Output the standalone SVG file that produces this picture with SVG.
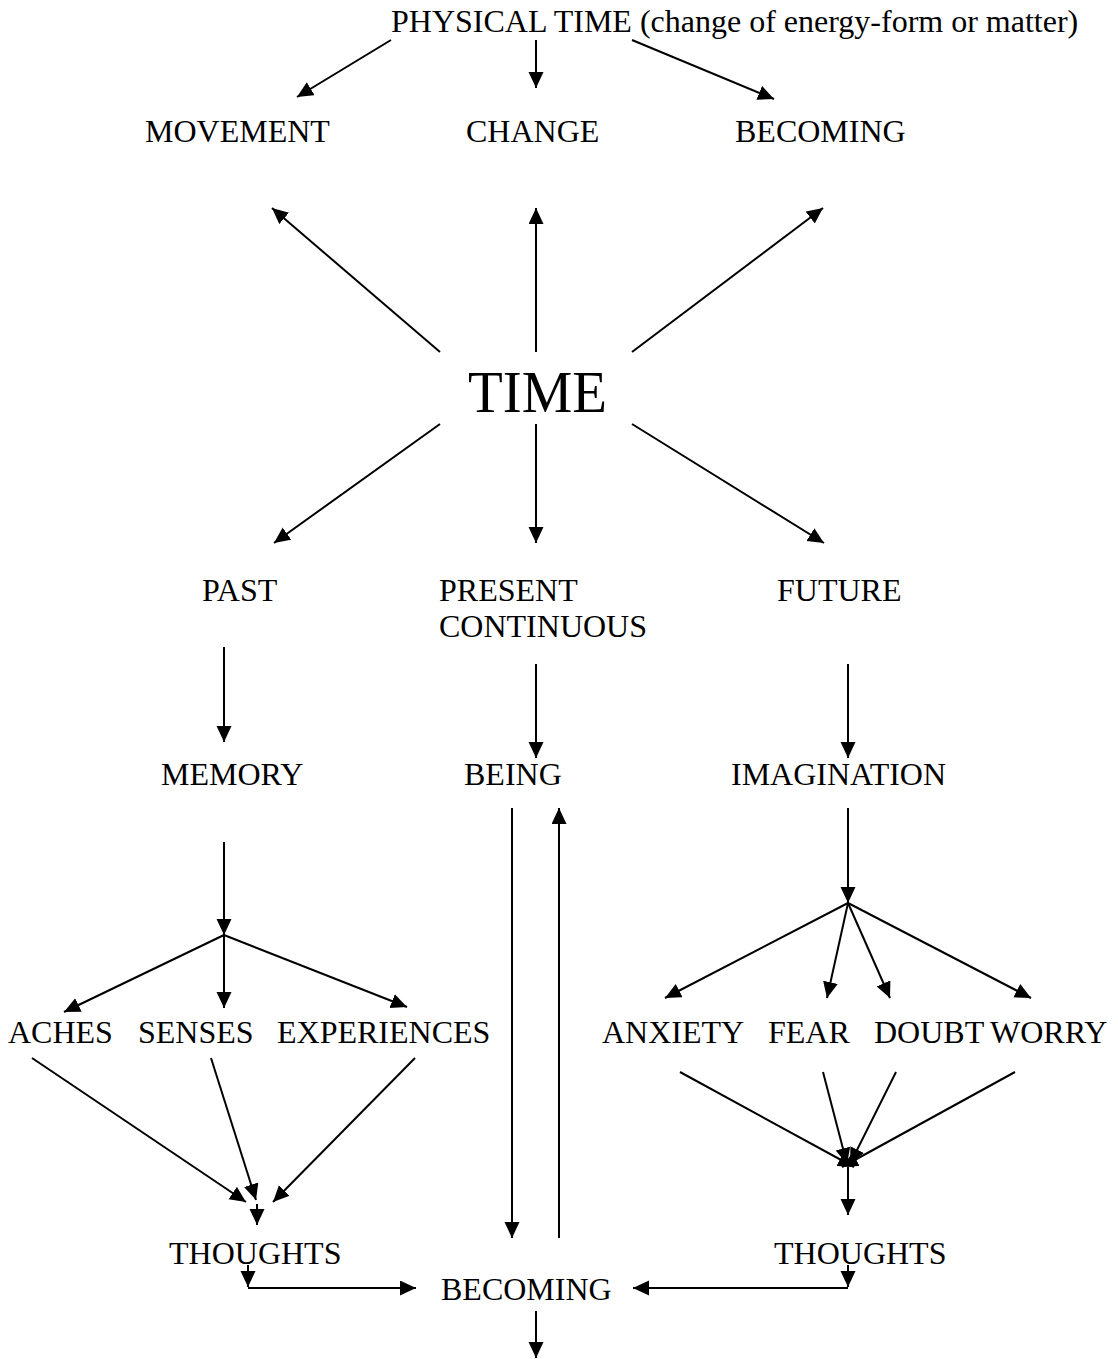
<svg xmlns="http://www.w3.org/2000/svg" width="1118" height="1359" viewBox="0 0 1118 1359">
<style>
text{font-family:"Liberation Serif","Times New Roman",serif;font-size:32px;fill:#000}
.big{font-size:60px}
.c line,.c path{stroke:#000;stroke-width:2;fill:none}
</style>
<defs>
<marker id="ah" markerUnits="userSpaceOnUse" markerWidth="18" markerHeight="16" refX="16" refY="7.5" orient="auto">
<path d="M0,0 L16,7.5 L0,15 z" fill="#000"/>
</marker>
</defs>
<rect width="1118" height="1359" fill="#fff"/>
<g id="physical-time"><text x="391" y="32">PHYSICAL TIME (change of energy-form or matter)</text></g>
<g id="movement"><text x="145" y="142">MOVEMENT</text></g>
<g id="change"><text x="466" y="142">CHANGE</text></g>
<g id="becoming-top"><text x="735" y="142">BECOMING</text></g>
<g id="time"><text class="big" x="468" y="412" textLength="139" lengthAdjust="spacingAndGlyphs">TIME</text></g>
<g id="past"><text x="202" y="601">PAST</text></g>
<g id="present"><text x="439" y="601">PRESENT</text><text x="439" y="637">CONTINUOUS</text></g>
<g id="future"><text x="777" y="601">FUTURE</text></g>
<g id="memory"><text x="161" y="785">MEMORY</text></g>
<g id="being"><text x="464" y="785">BEING</text></g>
<g id="imagination"><text x="731" y="785">IMAGINATION</text></g>
<g id="aches"><text x="8" y="1043">ACHES</text></g>
<g id="senses"><text x="138" y="1043">SENSES</text></g>
<g id="experiences"><text x="277" y="1043">EXPERIENCES</text></g>
<g id="anxiety"><text x="602" y="1043">ANXIETY</text></g>
<g id="fear"><text x="768" y="1043">FEAR</text></g>
<g id="doubt"><text x="874" y="1043">DOUBT</text></g>
<g id="worry"><text x="990" y="1043">WORRY</text></g>
<g id="thoughts-left"><text x="169" y="1264">THOUGHTS</text></g>
<g id="thoughts-right"><text x="774" y="1264">THOUGHTS</text></g>
<g id="becoming-bottom"><text x="441" y="1300">BECOMING</text></g>
<g id="connectors" class="c">
<line x1="391" y1="40" x2="297" y2="97" marker-end="url(#ah)"/>
<line x1="536" y1="40" x2="536" y2="88" marker-end="url(#ah)"/>
<line x1="632" y1="40" x2="774" y2="99" marker-end="url(#ah)"/>
<line x1="440" y1="352" x2="272" y2="208" marker-end="url(#ah)"/>
<line x1="536" y1="352" x2="536" y2="208" marker-end="url(#ah)"/>
<line x1="632" y1="352" x2="823" y2="208" marker-end="url(#ah)"/>
<line x1="440" y1="424" x2="274" y2="543" marker-end="url(#ah)"/>
<line x1="536" y1="424" x2="536" y2="543" marker-end="url(#ah)"/>
<line x1="632" y1="424" x2="824" y2="543" marker-end="url(#ah)"/>
<line x1="224" y1="647" x2="224" y2="742" marker-end="url(#ah)"/>
<line x1="536" y1="664" x2="536" y2="758" marker-end="url(#ah)"/>
<line x1="848" y1="664" x2="848" y2="758" marker-end="url(#ah)"/>
<line x1="224" y1="842" x2="224" y2="935" marker-end="url(#ah)"/>
<line x1="224" y1="935" x2="64" y2="1012" marker-end="url(#ah)"/>
<line x1="224" y1="935" x2="224" y2="1008" marker-end="url(#ah)"/>
<line x1="224" y1="935" x2="407" y2="1007" marker-end="url(#ah)"/>
<line x1="512" y1="808" x2="512" y2="1238" marker-end="url(#ah)"/>
<line x1="559" y1="1238" x2="559" y2="808" marker-end="url(#ah)"/>
<line x1="848" y1="808" x2="848" y2="903" marker-end="url(#ah)"/>
<line x1="848" y1="903" x2="665" y2="998" marker-end="url(#ah)"/>
<line x1="848" y1="903" x2="827" y2="998" marker-end="url(#ah)"/>
<line x1="848" y1="903" x2="890" y2="998" marker-end="url(#ah)"/>
<line x1="848" y1="903" x2="1031" y2="998" marker-end="url(#ah)"/>
<line x1="32" y1="1058" x2="246" y2="1202" marker-end="url(#ah)"/>
<line x1="211" y1="1058" x2="256" y2="1200" marker-end="url(#ah)"/>
<line x1="415" y1="1058" x2="273" y2="1202" marker-end="url(#ah)"/>
<line x1="257" y1="1204" x2="257" y2="1225" marker-end="url(#ah)"/>
<line x1="248" y1="1265" x2="248" y2="1287" marker-end="url(#ah)"/>
<line x1="248" y1="1288" x2="416" y2="1288" marker-end="url(#ah)"/>
<line x1="680" y1="1072" x2="854" y2="1167" marker-end="url(#ah)"/>
<line x1="823" y1="1072" x2="847" y2="1164" marker-end="url(#ah)"/>
<line x1="896" y1="1072" x2="850" y2="1164" marker-end="url(#ah)"/>
<line x1="1015" y1="1072" x2="842" y2="1167" marker-end="url(#ah)"/>
<line x1="848" y1="1167" x2="848" y2="1215" marker-end="url(#ah)"/>
<line x1="848" y1="1265" x2="848" y2="1287" marker-end="url(#ah)"/>
<line x1="848" y1="1288" x2="633" y2="1288" marker-end="url(#ah)"/>
<line x1="536" y1="1311" x2="536" y2="1358" marker-end="url(#ah)"/>
</g>
</svg>
